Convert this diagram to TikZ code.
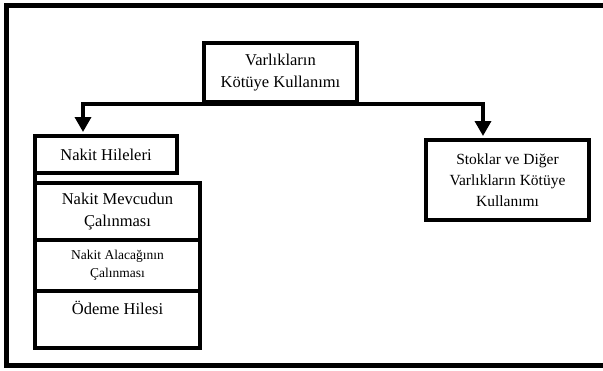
\documentclass[tikz,border=0pt]{standalone}
\usepackage{fontspec}
\setmainfont{Liberation Serif}
\usetikzlibrary{arrows.meta}
\begin{document}
\begin{tikzpicture}[x=1pt,y=-1pt,
  every node/.style={inner sep=0pt, align=center, text=black},
  thickbox/.style={draw, line width=4pt},
  cell/.style={draw, line width=2pt, minimum width=163pt},
  maintxt/.style={font=\fontsize{16.5}{22.5}\selectfont},
  sidetxt/.style={font=\fontsize{15.5}{21}\selectfont},
  smalltxt/.style={font=\fontsize{13.5}{18}\selectfont},
  arr/.style={line width=3.5pt, -{Triangle[width=16pt,length=15pt]}}]
\useasboundingbox (0,0) rectangle (603,370);
% outer frame, open on the right
\draw[line width=5pt] (612,5.5) -- (6.5,5.5) -- (6.5,365.5) -- (612,365.5);

% root
\node[thickbox, maintxt, minimum width=153pt, minimum height=59pt]
  (root) at (280.5,72.5) {Varlıkların\\Kötüye Kullanımı};

% cash branch
\node[thickbox, maintxt, minimum width=142pt, minimum height=37pt]
  (nh) at (106,154.5) {Nakit Hileleri};
\node[cell, maintxt, minimum height=55pt, anchor=north west]
  (c1) at (35,183) {Nakit Mevcudun\\Çalınması};
\node[cell, smalltxt, minimum height=49pt, anchor=north west]
  (c2) at (c1.south west) {Nakit Alacağının\\Çalınması};
\node[cell, maintxt, minimum height=55pt, anchor=north west]
  (c3) at (c2.south west) {Ödeme Hilesi\\\mbox{}};
\draw[line width=4pt] (c1.north west) rectangle (c3.south east);
\draw[line width=4pt] (c1.north west) -- (c1.north west |- nh.south);

% other assets branch
\node[thickbox, sidetxt, minimum width=163pt, minimum height=80pt]
  (sv) at (507.5,180) {Stoklar ve Diğer\\Varlıkların Kötüye\\Kullanımı};

% connectors
\coordinate (lj) at ([xshift=-23pt]nh.north);
\coordinate (rj) at ([xshift=-24.5pt]sv.north);
\draw[arr, shorten >=2pt] (root.south) -| (lj);
\draw[arr, shorten >=2pt] (root.south) -| (rj);
\end{tikzpicture}
\end{document}
